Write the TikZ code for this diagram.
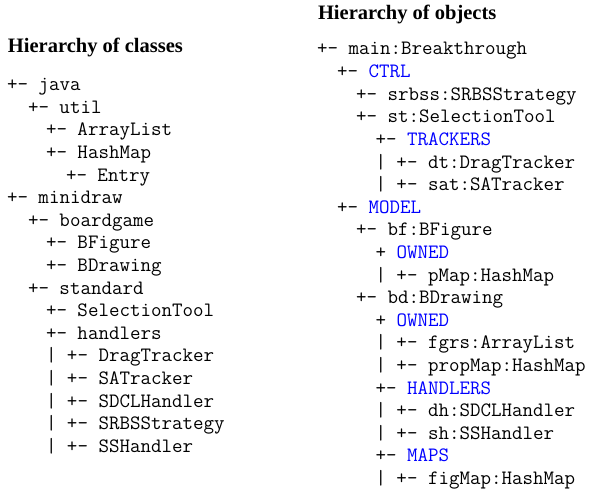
\documentclass[tikz,border=0pt]{standalone}
\usepackage{fontspec}
\setmainfont{Liberation Serif}
\setmonofont{Latin Modern Mono}
\begin{document}
\begin{tikzpicture}[x=1pt,y=1pt,
  line/.style={anchor=base west,inner sep=0pt,outer sep=0pt,
    font=\fontsize{20.4}{22.6}\ttfamily},
  head/.style={anchor=base west,inner sep=0pt,outer sep=0pt,
    font=\fontsize{20.5}{24}\bfseries}]
\useasboundingbox (0,0) rectangle (592,-492);
\def\kw#1{\textcolor{blue}{#1}}
% Left column
\node[head] (lt) at (8,-52.7) {Hierarchy of classes};
\node[line] (l0)  at (7,-90.7)  {+- java};
\node[line] (l1)  at (28,-113.3) {+- util};
\node[line] (l2)  at (46,-135.9) {+- ArrayList};
\node[line] (l3)  at (46,-158.5) {+- HashMap};
\node[line] (l4)  at (66,-181.1) {+- Entry};
\node[line] (l5)  at (7,-203.7)  {+- minidraw};
\node[line] (l6)  at (28,-226.3) {+- boardgame};
\node[line] (l7)  at (46,-248.9) {+- BFigure};
\node[line] (l8)  at (46,-271.5) {+- BDrawing};
\node[line] (l9)  at (28,-294.1) {+- standard};
\node[line] (l10) at (46,-316.7) {+- SelectionTool};
\node[line] (l11) at (46,-339.3) {+- handlers};
\node[line] (l12) at (46,-361.9) {| +- DragTracker};
\node[line] (l13) at (46,-384.5) {| +- SATracker};
\node[line] (l14) at (46,-407.1) {| +- SDCLHandler};
\node[line] (l15) at (46,-429.7) {| +- SRBSStrategy};
\node[line] (l16) at (46,-452.3) {| +- SSHandler};
% Right column
\node[head] (rt) at (318,-19.5) {Hierarchy of objects};
\node[line] (r0)  at (317,-55.0)   {+- main:Breakthrough};
\node[line] (r1)  at (337,-77.6)   {+- \kw{CTRL}};
\node[line] (r2)  at (356,-100.2)  {+- srbss:SRBSStrategy};
\node[line] (r3)  at (356,-122.8)  {+- st:SelectionTool};
\node[line] (r4)  at (375.5,-145.4) {+- \kw{TRACKERS}};
\node[line] (r5)  at (375.5,-168.0) {| +- dt:DragTracker};
\node[line] (r6)  at (375.5,-190.6) {| +- sat:SATracker};
\node[line] (r7)  at (337,-213.2)  {+- \kw{MODEL}};
\node[line] (r8)  at (356,-235.8)  {+- bf:BFigure};
\node[line] (r9)  at (375.5,-258.4) {+ \kw{OWNED}};
\node[line] (r10) at (375.5,-281.0) {| +- pMap:HashMap};
\node[line] (r11) at (356,-303.6)  {+- bd:BDrawing};
\node[line] (r12) at (375.5,-326.2) {+ \kw{OWNED}};
\node[line] (r13) at (375.5,-348.8) {| +- fgrs:ArrayList};
\node[line] (r14) at (375.5,-371.4) {| +- propMap:HashMap};
\node[line] (r15) at (375.5,-394.0) {+- \kw{HANDLERS}};
\node[line] (r16) at (375.5,-416.6) {| +- dh:SDCLHandler};
\node[line] (r17) at (375.5,-439.2) {| +- sh:SSHandler};
\node[line] (r18) at (375.5,-461.8) {+- \kw{MAPS}};
\node[line] (r19) at (375.5,-484.4) {| +- figMap:HashMap};
\end{tikzpicture}
\end{document}
